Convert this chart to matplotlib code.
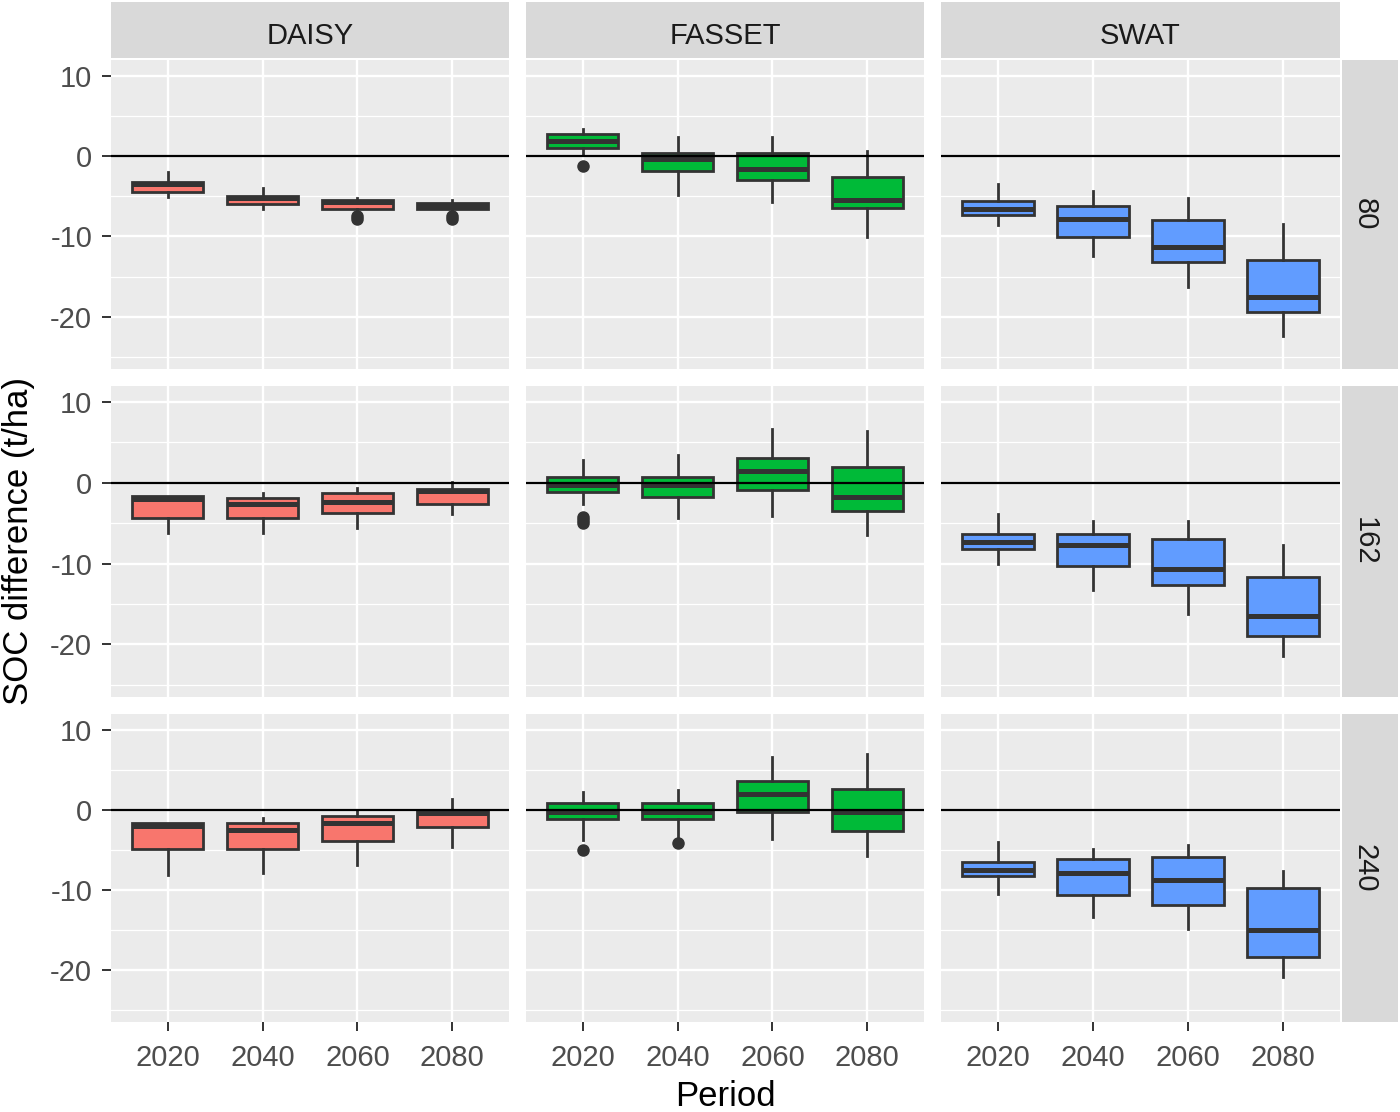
import matplotlib
matplotlib.use("Agg")
import matplotlib.pyplot as plt

plt.rcParams['font.family'] = ['Liberation Sans', 'DejaVu Sans']
plt.rcParams['axes.unicode_minus'] = False

# ---------------- data ----------------
models = ["DAISY", "FASSET", "SWAT"]
rates = ["80", "162", "240"]
periods = ["2020", "2040", "2060", "2080"]
colors = ["#F8766D", "#00BA38", "#619CFF"]

# rows: rate 80, 162, 240 ; columns: periods
daisy_whishi = [[-1.95, -4.0, -5.19, -5.52], [-1.61, -1.28, -0.7, 0.04], [-1.71, -1.09, -0.04, 1.3]]
daisy_q3 = [[-3.2, -4.94, -5.52, -5.81], [-1.61, -1.95, -1.33, -0.75], [-1.71, -1.71, -0.84, -0.08]]
daisy_med = [[-3.5, -5.19, -5.77, -6.2], [-1.99, -2.69, -2.44, -1.03], [-2.05, -2.51, -1.63, -0.42]]
daisy_q1 = [[-4.5, -5.98, -6.6, -6.6], [-4.39, -4.39, -3.81, -2.65], [-4.85, -4.85, -3.93, -2.13]]
daisy_whislo = [[-5.07, -6.6, -6.8, -6.7], [-6.17, -6.17, -5.63, -3.85], [-8.16, -7.86, -6.94, -4.6]]
daisy_out = [[[], [], [-7.4, -7.8], [-7.4, -7.8]], [[], [], [], []], [[], [], [], []]]

fasset_whishi = [[3.32, 2.41, 2.41, 0.66], [2.81, 3.44, 6.67, 6.34], [2.22, 2.47, 6.6, 6.94]]
fasset_q3 = [[2.7, 0.33, 0.33, -2.66], [0.75, 0.75, 3.06, 1.9], [0.88, 0.88, 3.55, 2.6]]
fasset_med = [[1.91, -0.37, -1.58, -5.48], [-0.25, -0.29, 1.41, -1.82], [-0.25, -0.25, 1.92, -0.3]]
fasset_q1 = [[1.04, -1.87, -2.99, -6.52], [-1.16, -1.74, -0.87, -3.52], [-1.21, -1.21, -0.29, -2.68]]
fasset_whislo = [[0.1, -4.86, -5.77, -10.1], [-2.69, -4.43, -4.14, -6.5], [-3.72, -3.68, -3.68, -5.73]]
fasset_out = [[[-1.2], [], [], []], [[-4.2, -4.6, -5.0], [], [], []], [[-4.98], [-4.14], [], []]]

swat_whishi = [[-3.45, -4.32, -5.19, -8.43], [-3.89, -4.76, -4.76, -7.74], [-4.06, -4.89, -4.35, -7.61]]
swat_q3 = [[-5.6, -6.19, -7.97, -12.95], [-6.29, -6.29, -6.92, -11.64], [-6.48, -6.15, -5.9, -9.74]]
swat_med = [[-6.64, -7.8, -11.33, -17.5], [-7.37, -7.66, -10.64, -16.48], [-7.49, -7.86, -8.74, -14.97]]
swat_q1 = [[-7.39, -10.05, -13.24, -19.4], [-8.2, -10.27, -12.63, -18.92], [-8.32, -10.66, -11.88, -18.36]]
swat_whislo = [[-8.63, -12.5, -16.3, -22.45], [-10.0, -13.25, -16.23, -21.45], [-10.5, -13.4, -14.93, -20.83]]
swat_out = [[[], [], [], []], [[], [], [], []], [[], [], [], []]]

y_ticks = [-20, -10, 0, 10]
y_minor = [-25, -15, -5, 5]

model_stats = [
    (daisy_whislo, daisy_q1, daisy_med, daisy_q3, daisy_whishi, daisy_out),
    (fasset_whislo, fasset_q1, fasset_med, fasset_q3, fasset_whishi, fasset_out),
    (swat_whislo, swat_q1, swat_med, swat_q3, swat_whishi, swat_out),
]

# ---------------- layout ----------------
W, H = 1400, 1112
fig = plt.figure(figsize=(W / 100, H / 100), dpi=100)
fig.patch.set_facecolor("white")


def rect(x0, y0, x1, y1):
    return [x0 / W, 1 - y1 / H, (x1 - x0) / W, (y1 - y0) / H]


col_x = [(111, 509), (526, 924), (941, 1340)]
row_y = [(60, 369), (386, 697), (714, 1022)]

TICK_FS = 21
STRIP_FS = 21
TITLE_FS = 25
EDGE = "#333333"

for ci, (x0, x1) in enumerate(col_x):
    # top strip
    sax = fig.add_axes(rect(x0, 2, x1, 58))
    sax.set_facecolor("#D9D9D9")
    sax.set_xticks([]); sax.set_yticks([])
    for s in sax.spines.values():
        s.set_visible(False)
    sax.text(0.5, 0.40, models[ci], ha="center", va="center", fontsize=STRIP_FS,
             color="#1A1A1A", transform=sax.transAxes)

for ri, (y0, y1) in enumerate(row_y):
    sax = fig.add_axes(rect(1342, y0, 1398, y1))
    sax.set_facecolor("#D9D9D9")
    sax.set_xticks([]); sax.set_yticks([])
    for s in sax.spines.values():
        s.set_visible(False)
    sax.text(0.40, 0.5, rates[ri], ha="center", va="center", fontsize=STRIP_FS,
             color="#1A1A1A", rotation=-90, transform=sax.transAxes)

positions = list(range(1, len(periods) + 1))

for ci, (x0, x1) in enumerate(col_x):
    lo, q1, med, q3, hi, outs = model_stats[ci]
    for ri, (y0, y1) in enumerate(row_y):
        ax = fig.add_axes(rect(x0, y0, x1, y1))
        ax.set_facecolor("#EBEBEB")
        for s in ax.spines.values():
            s.set_visible(False)
        ax.set_axisbelow(True)
        stats = []
        for k, p in enumerate(periods):
            stats.append(dict(label=p, whislo=lo[ri][k], q1=q1[ri][k], med=med[ri][k],
                              q3=q3[ri][k], whishi=hi[ri][k], fliers=outs[ri][k]))
        ax.bxp(stats, positions=positions, widths=0.75, patch_artist=True,
               showcaps=False, manage_ticks=False,
               boxprops=dict(facecolor=colors[ci], edgecolor=EDGE, linewidth=2.0),
               medianprops=dict(color=EDGE, linewidth=3.6, solid_capstyle="butt"),
               whiskerprops=dict(color=EDGE, linewidth=2.0),
               flierprops=dict(marker="o", markerfacecolor=EDGE, markeredgecolor=EDGE,
                               markersize=8, linestyle="none"))
        ax.axhline(0, color="black", linewidth=1.6, zorder=4)
        ax.set_xlim(0.4, len(periods) + 0.6)
        ax.set_ylim(-26.5, 11.95)
        ax.set_xticks(positions)
        ax.set_yticks(y_ticks)
        ax.set_yticks(y_minor, minor=True)
        ax.grid(which="major", color="white", linewidth=1.7)
        ax.grid(which="minor", axis="y", color="white", linewidth=0.9)
        ax.tick_params(which="minor", length=0)
        ax.tick_params(which="major", color=EDGE, length=6.5, width=1.4,
                       labelcolor="#4D4D4D", labelsize=TICK_FS, pad=9)
        if ri == len(row_y) - 1:
            ax.set_xticklabels(periods)
        else:
            ax.tick_params(axis="x", length=0, labelbottom=False)
        if ci == 0:
            ax.set_yticklabels([str(v) for v in y_ticks])
            ax.tick_params(axis="y", pad=7)
        else:
            ax.tick_params(axis="y", length=0, labelleft=False)

fig.text(725 / W, 1 - 1097 / H, "Period", ha="center", va="center",
         fontsize=TITLE_FS, color="black")
fig.text(19 / W, 1 - 541 / H, "SOC difference (t/ha)", ha="center", va="center",
         rotation=90, fontsize=TITLE_FS, color="black")

fig.savefig("out.png", dpi=100, facecolor="white")
